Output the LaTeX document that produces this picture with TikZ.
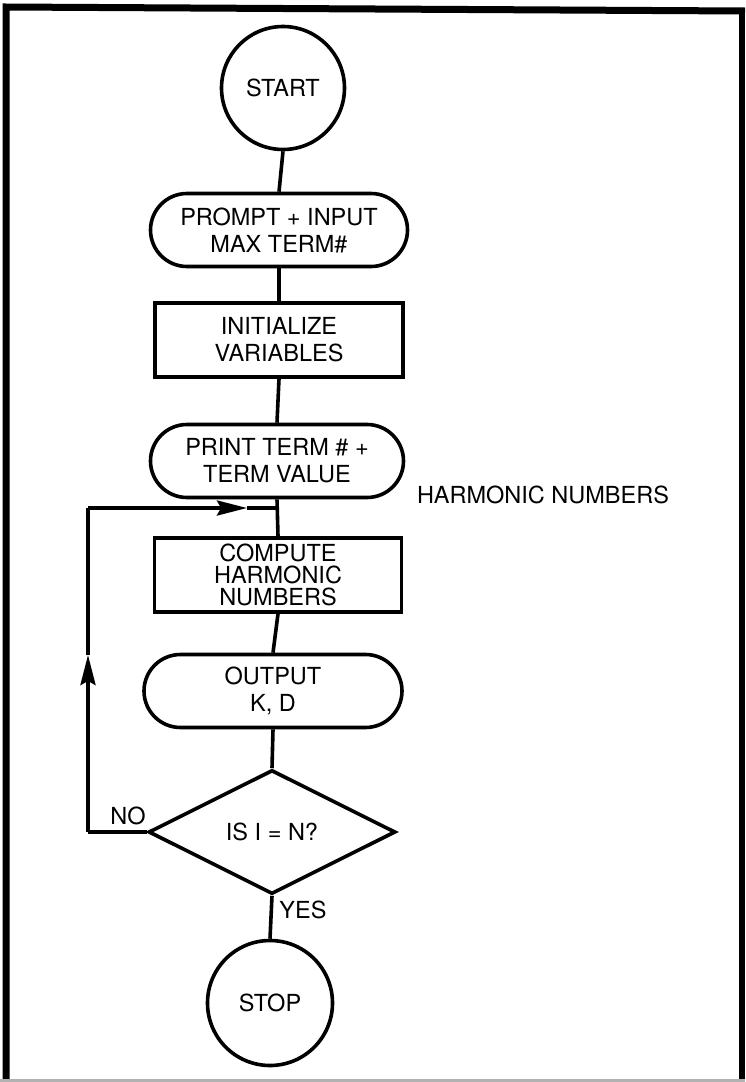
\documentclass[tikz,border=0pt]{standalone}
\usepackage{fontspec}
\setmainfont{TeX Gyre Heros}
\usetikzlibrary{shapes.geometric,shapes.misc,arrows.meta}
\begin{document}
\begin{tikzpicture}[x=1pt,y=-1pt,
  line width=3.6pt,
  every node/.style={font=\fontsize{23.5}{27}\selectfont, align=center, inner sep=0pt},
  termbox/.style={draw, rounded rectangle, minimum height=73pt},
  procbox/.style={draw, rectangle, minimum width=248pt, minimum height=74pt},
  circbox/.style={draw, circle},
  decbox/.style={draw, diamond, minimum width=247pt, minimum height=124pt},
  lbl/.style={font=\fontsize{23.5}{27}\selectfont},
  arr/.style={-{Stealth[length=30pt,width=15pt,inset=4pt]}}
]
\useasboundingbox (0,0) rectangle (745,1082);
% border
\draw[line width=7pt] (6,1082) -- (6,7) -- (745,11);
\draw[line width=6pt] (742,11) -- (742,1082);
\draw[line width=3pt, gray!60] (0,1080) -- (745,1080);

% nodes
\node[circbox, minimum size=123pt] (start) at (283,88) {START};
\node[termbox, minimum width=257pt] (prompt) at (279,230) {PROMPT + INPUT\\MAX TERM\#};
\node[procbox] (init) at (279,340) {INITIALIZE\\VARIABLES};
\node[termbox, minimum width=253pt] (print) at (277,461) {PRINT TERM \# +\\TERM VALUE};
\node[procbox, minimum width=247pt, font=\fontsize{23.5}{22}\selectfont] (compute) at (278,575) {COMPUTE\\HARMONIC\\NUMBERS};
\node[termbox, minimum width=258pt] (output) at (273,691) {OUTPUT\\K, D};
\node[decbox] (dec) at (272,832) {IS I = N?};
\node[circbox, minimum size=125pt] (stop) at (270,1003) {STOP};

\node[lbl] (harm) at (543,495) {HARMONIC NUMBERS};
\node[lbl] (no) at (128,816) {NO};
\node[lbl] (yes) at (303,910) {YES};

% connectors
\draw (start.south) -- (prompt.north);
\draw (prompt.south) -- (init.north);
\draw (init.south) -- (print.north);
\draw (print.south) -- (compute.north);
\draw (compute.south) -- (output.north);
\draw (output.south) -- (dec.north);
\draw (dec.south) -- (stop.north);

% loop back
\coordinate (corner) at (88,832);
\coordinate (vtip) at (88,655);
\coordinate (top) at (88,508);
\coordinate (htip) at (247,508);
\coordinate (join) at (278,508);
\draw (dec.west) -- (corner);
\draw[arr] (corner) -- (vtip);
\draw (vtip) -- (top);
\draw[arr] (top) -- (htip);
\draw (htip) -- (join);
\end{tikzpicture}
\end{document}
